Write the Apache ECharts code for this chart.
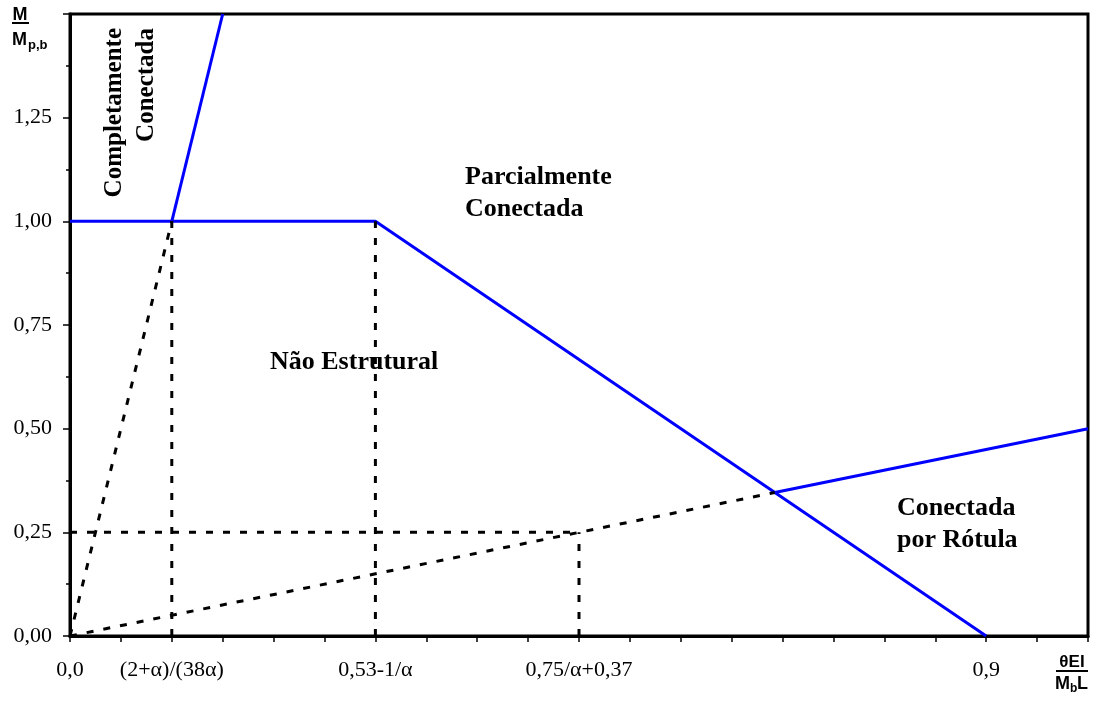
<!DOCTYPE html>
<html>
<head>
<meta charset="utf-8">
<script src="https://cdn.jsdelivr.net/npm/echarts@6/dist/echarts.min.js"></script>
<style>
    html, body { margin: 0; padding: 0; background: #fff; }
    #main { width: 1104px; height: 702px; }
</style>
</head>
<body>
<div id="main"></div>
<script>
// limites de ligacao (curvas azuis)
var limiteRigida = [[0.1, 1.0], [0.15, 1.5]];
var limiteSemiRigida = [[0, 1.0], [0.3, 1.0], [0.9, 0]];
var limiteRotula = [[0.6923, 0.346], [1.0, 0.5]];

// linhas auxiliares tracejadas
var auxRigida = [[0, 0], [0.1, 1.0]];
var auxRotula = [[0, 0], [0.6923, 0.346]];
var auxVert1 = [[0.1, 0], [0.1, 1.0]];
var auxVert2 = [[0.3, 0], [0.3, 1.0]];
var auxVert3 = [[0.5, 0], [0.5, 0.25]];
var auxHoriz = [[0, 0.25], [0.5, 0.25]];

// rotulos do eixo x
var xTickValues = [0, 0.1, 0.3, 0.5, 0.9];
var xTickLabels = ['0,0', '(2+α)/(38α)', '0,53-1/α', '0,75/α+0,37', '0,9'];

var serif = 'Liberation Serif';
var sans = 'Liberation Sans';

var chart = echarts.init(document.getElementById('main'));

function blueLine(data) {
    return {
        type: 'line',
        data: data,
        symbol: 'none',
        z: 3,
        lineStyle: { color: '#0000ff', width: 3 }
    };
}

function dashLine(data) {
    return {
        type: 'line',
        data: data,
        symbol: 'none',
        z: 4,
        lineStyle: { color: '#000', width: 3, type: [7, 10] }
    };
}

var option = {
    animation: false,
    backgroundColor: '#fff',
    grid: {
        left: 70, right: 16, top: 14, bottom: 66,
        show: true,
        borderColor: '#000',
        borderWidth: 3,
        backgroundColor: '#fff'
    },
    xAxis: {
        type: 'value',
        min: 0,
        max: 1,
        interval: 0.05,
        axisLine: { lineStyle: { color: '#000', width: 3 } },
        axisTick: { show: true, length: 6, lineStyle: { color: '#000', width: 1.5 } },
        splitLine: { show: false },
        axisLabel: {
            margin: 23,
            color: '#000',
            fontFamily: serif,
            fontSize: 22,
            showMaxLabel: true,
            formatter: function (v) {
                for (var i = 0; i < xTickValues.length; i++) {
                    if (Math.abs(v - xTickValues[i]) < 1e-6) {
                        return xTickLabels[i];
                    }
                }
                return '';
            }
        }
    },
    yAxis: {
        type: 'value',
        min: 0,
        max: 1.5,
        interval: 0.25,
        axisLine: { show: true, lineStyle: { color: '#000', width: 3 } },
        axisTick: { show: true, length: 7, lineStyle: { color: '#000', width: 1.5 } },
        minorTick: { show: true, splitNumber: 2, length: 4, lineStyle: { color: '#000', width: 1.5 } },
        splitLine: { show: false },
        axisLabel: {
            margin: 18,
            color: '#000',
            fontFamily: serif,
            fontSize: 22,
            formatter: function (v) {
                if (v >= 1.5) return '';
                return v.toFixed(2).replace('.', ',');
            }
        }
    },
    series: [
        dashLine(auxRigida),
        dashLine(auxRotula),
        dashLine(auxVert1),
        dashLine(auxVert2),
        dashLine(auxVert3),
        dashLine(auxHoriz),
        blueLine(limiteRigida),
        blueLine(limiteSemiRigida),
        blueLine(limiteRotula)
    ],
    graphic: [
        // titulo do eixo y
        { type: 'text', x: 20, y: 15, style: { text: 'M', fontFamily: sans, fontWeight: 'bold', fontSize: 18, fill: '#000', align: 'center', verticalAlign: 'middle' } },
        { type: 'line', shape: { x1: 12, y1: 23, x2: 29, y2: 23 }, style: { stroke: '#000', lineWidth: 2 } },
        { type: 'text', x: 12, y: 40, style: { text: 'M', fontFamily: sans, fontWeight: 'bold', fontSize: 18, fill: '#000', verticalAlign: 'middle' } },
        { type: 'text', x: 28, y: 45, style: { text: 'p,b', fontFamily: sans, fontWeight: 'bold', fontSize: 13, fill: '#000', verticalAlign: 'middle' } },
        // titulo do eixo x
        { type: 'text', x: 1072, y: 662, style: { text: 'θEI', fontFamily: sans, fontWeight: 'bold', fontSize: 17, fill: '#000', align: 'center', verticalAlign: 'middle' } },
        { type: 'line', shape: { x1: 1056, y1: 671, x2: 1088, y2: 671 }, style: { stroke: '#000', lineWidth: 2 } },
        { type: 'text', x: 1055, y: 684, style: { text: 'M', fontFamily: sans, fontWeight: 'bold', fontSize: 18, fill: '#000', verticalAlign: 'middle' } },
        { type: 'text', x: 1070, y: 689, style: { text: 'b', fontFamily: sans, fontWeight: 'bold', fontSize: 12, fill: '#000', verticalAlign: 'middle' } },
        { type: 'text', x: 1077, y: 684, style: { text: 'L', fontFamily: sans, fontWeight: 'bold', fontSize: 18, fill: '#000', verticalAlign: 'middle' } },
        // regioes
        { type: 'text', x: 131, y: 28, rotation: Math.PI / 2, z: 10, style: { text: 'Completamente\nConectada', fontFamily: serif, fontWeight: 'bold', fontSize: 25, lineHeight: 32, fill: '#000', align: 'right', verticalAlign: 'middle' } },
        { type: 'text', x: 465, y: 193, z: 10, style: { text: 'Parcialmente\nConectada', fontFamily: serif, fontWeight: 'bold', fontSize: 26, lineHeight: 32, fill: '#000', align: 'left', verticalAlign: 'middle' } },
        { type: 'text', x: 270, y: 362, z: 1, style: { text: 'Não Estrutural', fontFamily: serif, fontWeight: 'bold', fontSize: 26, fill: '#000', align: 'left', verticalAlign: 'middle' } },
        { type: 'text', x: 897, y: 524, z: 10, style: { text: 'Conectada\npor Rótula', fontFamily: serif, fontWeight: 'bold', fontSize: 26, lineHeight: 32, fill: '#000', align: 'left', verticalAlign: 'middle' } }
    ]
};

chart.setOption(option);
</script>
</body>
</html>
